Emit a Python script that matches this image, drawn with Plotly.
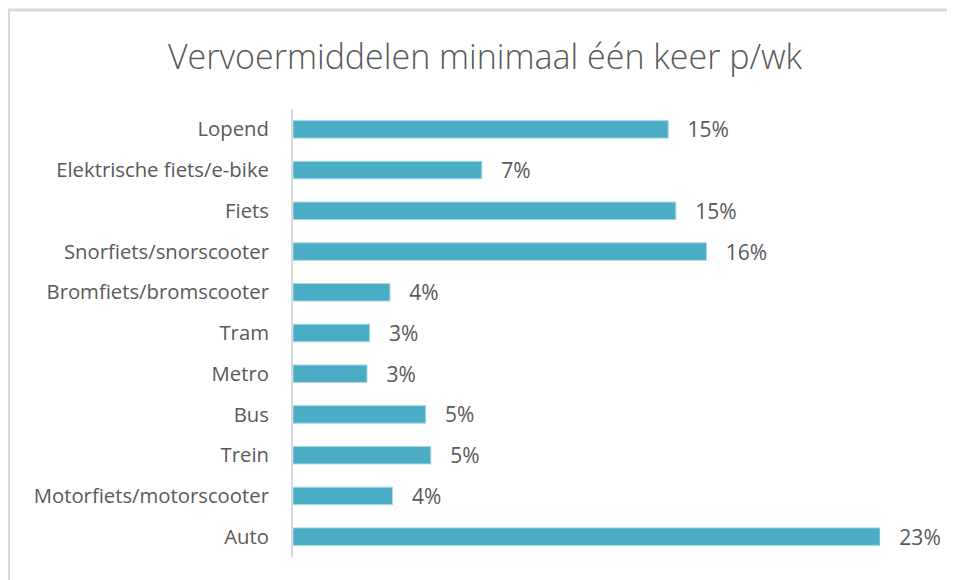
import plotly.graph_objects as go

categories = ["Lopend", "Elektrische fiets/e-bike", "Fiets", "Snorfiets/snorscooter",
              "Bromfiets/bromscooter", "Tram", "Metro", "Bus", "Trein",
              "Motorfiets/motorscooter", "Auto"]
values = [14.7, 7.4, 15.0, 16.2, 3.8, 3.0, 2.9, 5.2, 5.4, 3.9, 23.0]
title_text = "Vervoermiddelen minimaal één keer p/wk"

W, H = 955, 580
OFF = 8  # page body margin
L, R, T, B = 293 - OFF, 955 - (880 - OFF), 108.6 - OFF, 580 - (557.4 - OFF)

fig = go.Figure(go.Bar(
    x=values, y=categories, orientation="h",
    marker=dict(color="#4BACC6", line=dict(color="#A9D8E4", width=1)),
    width=0.43,
    text=values, texttemplate="\u00a0\u00a0\u00a0%{x:.0f}%", textposition="outside",
    constraintext="none",
    textfont=dict(family="Open Sans", size=21, color="#595959"),
    cliponaxis=False,
))

pw = W - L - R
ph = H - T - B
def px(x):
    return (x - L) / pw
def py(y):
    return (H - B - y) / ph

fig.update_layout(
    width=W, height=H,
    margin=dict(l=L, r=R, t=T, b=B, autoexpand=False),
    paper_bgcolor="white", plot_bgcolor="white",
    title=dict(text=title_text, x=(485 - OFF) / W, xanchor="center", xref="container",
               y=1 - (57 - OFF) / H, yanchor="middle", yref="container",
               font=dict(family="Open Sans", size=34, color="#595959", weight=300)),
    xaxis=dict(range=[0, 23], visible=False, fixedrange=True),
    yaxis=dict(categoryorder="array", categoryarray=categories[::-1],
               showline=True, linecolor="#D9D9D9", linewidth=2, showgrid=False,
               ticks="", ticklabelstandoff=18, automargin=False,
               tickfont=dict(family="Open Sans", size=20.3, color="#595959")),
    showlegend=False,
    shapes=[
        dict(type="line", xref="paper", yref="paper", x0=px(0), x1=px(W), y0=py(1.5), y1=py(1.5),
             line=dict(color="#D9D9D9", width=3)),
        dict(type="line", xref="paper", yref="paper", x0=px(1), x1=px(1), y0=py(1.5), y1=py(H),
             line=dict(color="#D9D9D9", width=2)),
    ],
)

fig.write_html("out.html")
